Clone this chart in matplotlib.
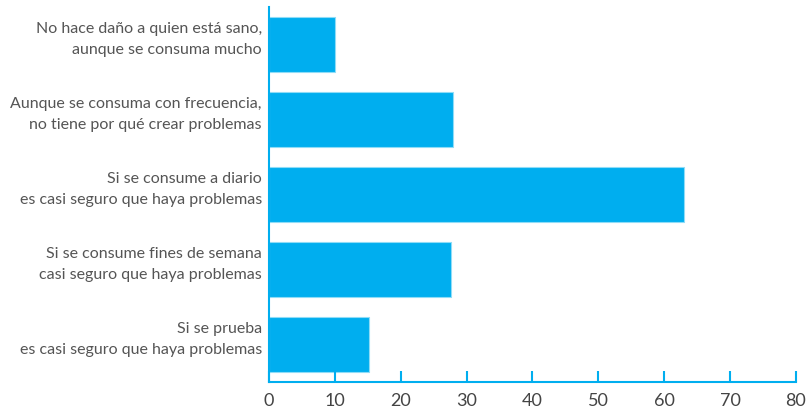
import matplotlib.pyplot as plt
import matplotlib.transforms as mtransforms

# opiniones y porcentaje de respuestas
opiniones = [
    'No hace daño a quien está sano,\naunque se consuma mucho',
    'Aunque se consuma con frecuencia,\nno tiene por qué crear problemas',
    'Si se consume a diario\nes casi seguro que haya problemas',
    'Si se consume fines de semana\ncasi seguro que haya problemas',
    'Si se prueba\nes casi seguro que haya problemas',
]
porcentajes = [10, 28, 63, 27.7, 15.2]
ticks_x = [0, 10, 20, 30, 40, 50, 60, 70, 80]

azul = '#00AEEF'
plt.rcParams['font.family'] = ['Lato', 'DejaVu Sans']

fig = plt.figure(figsize=(8.10, 4.11), dpi=100)
ax = fig.add_axes([0.332, 0.0706, 0.6507, 0.9124])

pos = list(range(len(opiniones)))
ax.barh(pos, porcentajes, height=0.73, color=azul, edgecolor='#8fdcf7', linewidth=0.8)

ax.set_ylim(4.5, -0.5)
ax.set_xlim(0, 80)
ax.set_yticks(pos)
ax.set_yticklabels([])
ax.set_xticks(ticks_x)
ax.set_xticklabels([str(t) for t in ticks_x], fontsize=13, color='#444444')

# etiquetas a la izquierda, un poco por encima del centro de cada barra
desplaza = mtransforms.ScaledTranslation(-7 / 100, 5 / 100, fig.dpi_scale_trans)
trans = ax.get_yaxis_transform() + desplaza
for i, texto in zip(pos, opiniones):
    ax.text(0, i, texto, transform=trans, ha='right', va='center',
            multialignment='right', fontsize=11.5, color='#555555',
            linespacing=1.7)

for lado in ['top', 'right']:
    ax.spines[lado].set_visible(False)
for lado in ['left', 'bottom']:
    ax.spines[lado].set_color(azul)
    ax.spines[lado].set_linewidth(1.5)

ax.tick_params(axis='y', length=0)
ax.tick_params(axis='x', direction='in', length=8, width=1.5, color=azul, pad=8)

fig.savefig('out.png', dpi=100)
